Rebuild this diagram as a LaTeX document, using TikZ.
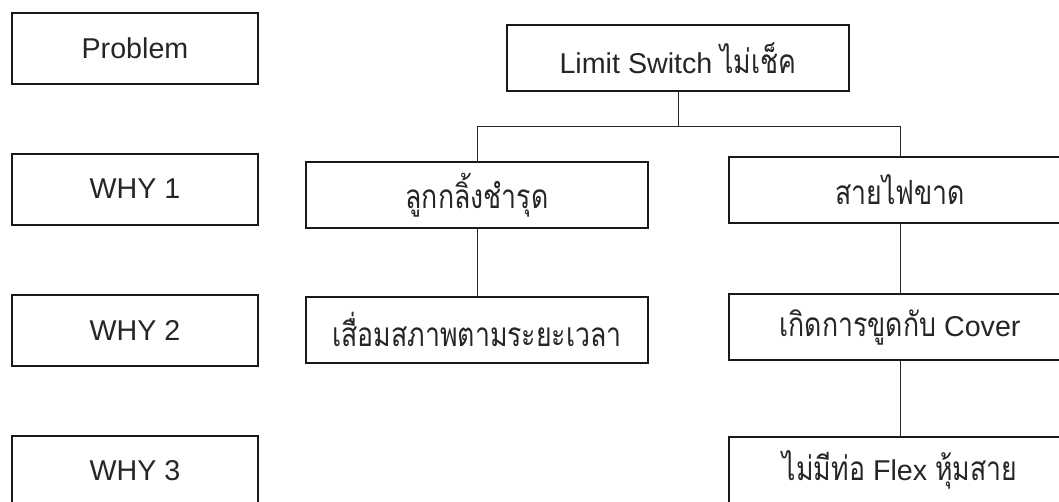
\documentclass[tikz,border=0pt]{standalone}
\usepackage{fontspec}
\setmainfont{Liberation Sans}
\newfontfamily\thaifnt[Script=Thai,FakeStretch=0.8]{Loma}
\newcommand{\thai}{\thaifnt\fontsize{25}{28}\selectfont}
\begin{document}
\begin{tikzpicture}[x=0.75pt,y=-0.75pt,
  lbl/.style={draw=black!90, line width=1.5pt, rectangle, inner sep=0pt,
    minimum width=184.5pt, minimum height=53.25pt, text=black!85,
    font=\fontsize{21.5}{26}\selectfont},
  cbox/.style={draw=black!90, line width=1.5pt, rectangle, inner sep=0pt,
    minimum width=256.5pt, minimum height=49.5pt, text=black!85,
    font=\fontsize{21.5}{26}\selectfont},
  link/.style={draw=black!85, line width=0.75pt}]
\useasboundingbox (0,0) rectangle (1059,501);
\clip (0,0) rectangle (1059,501);
% left labels
\node[lbl] (p)  at (135,48.5) {Problem};
\node[lbl] (w1) at (135,189) {WHY 1};
\node[lbl] (w2) at (135,330) {WHY 2};
\node[lbl] (w3) at (135,471) {WHY 3};
% tree
\node[cbox] (lim) at (678,58) {Limit Switch {\thai ไม่เช็ค}};
\node[cbox] (a1) at (477,195) {\thai ลูกกลิ้งชำรุด};
\node[cbox] (b1) at (900,189.5) {\thai สายไฟขาด};
\node[cbox] (a2) at (477,329.5) {\thai เสื่อมสภาพตามระยะเวลา};
\node[cbox] (b2) at (900,327) {{\thai เกิดการขูดกับ} Cover};
\node[cbox] (b3) at (900,470) {{\thai ไม่มีท่อ} Flex {\thai หุ้มสาย}};
\coordinate (busL) at (477,126);
\coordinate (busR) at (900,126);
\draw[link] (lim.south) -- (lim.south |- busL);
\draw[link] (a1.north) -- (busL) -- (busR) -- (b1.north);
\draw[link] (a1.south) -- (a2.north);
\draw[link] (b1.south) -- (b2.north);
\draw[link] (b2.south) -- (b3.north);
\end{tikzpicture}
\end{document}
